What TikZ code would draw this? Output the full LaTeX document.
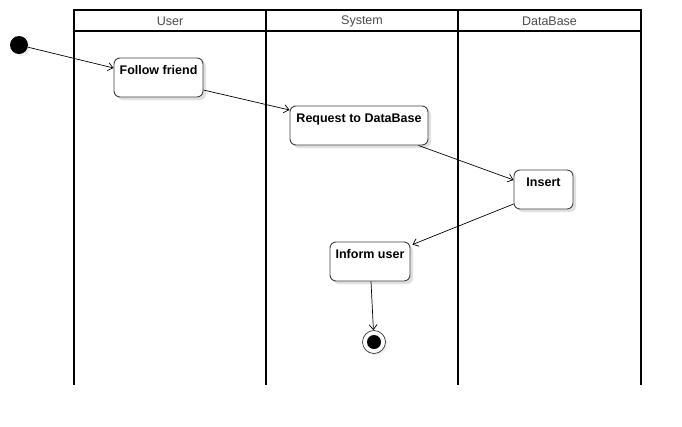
\documentclass[tikz,border=0pt]{standalone}
\usepackage{fontspec}
\setmainfont{Liberation Sans}
\usetikzlibrary{arrows.meta,calc,shadows}
\tikzset{
  lane/.style={line width=2pt, draw=black},
  lanetitle/.style={text=black!70, font=\fontsize{12.5}{14}\selectfont, inner sep=0pt},
  actbox/.style={draw=black!75, line width=0.9pt, rounded corners=6pt, fill=white,
    drop shadow={opacity=0.2, shadow xshift=3pt, shadow yshift=-3pt, fill=black!60}},
  acttext/.style={font=\bfseries\fontsize{12.5}{14}\selectfont, inner sep=0pt, anchor=north},
  flow/.style={draw=black, line width=0.7pt, -{Straight Barb[length=5pt,width=8pt]}},
  startdot/.style={circle, fill=black, minimum size=18pt, inner sep=0pt,
    drop shadow={opacity=0.12, shadow xshift=2pt, shadow yshift=-2pt}},
  endring/.style={circle, draw=black!80, line width=0.7pt, fill=white, minimum size=23pt, inner sep=0pt,
    drop shadow={opacity=0.12, shadow xshift=2pt, shadow yshift=-2pt}},
  enddot/.style={circle, fill=black, minimum size=14pt, inner sep=0pt}
}
\begin{document}
\begin{tikzpicture}[x=1pt,y=-1pt]
\useasboundingbox (0,0) rectangle (682,426);
% swimlanes
\draw[lane] (74,385) -- (74,10) -- (641,10) -- (641,385);
\draw[lane] (74,31) -- (641,31);
\draw[lane] (266,10) -- (266,385);
\draw[lane] (458,10) -- (458,385);
\node[lanetitle] (tuser) at (170,21.5) {User};
\node[lanetitle] (tsys) at (362,21.5) {System};
\node[lanetitle] (tdb) at (549.5,21.5) {DataBase};
% nodes
\node[startdot] (start) at (19,45) {};
\node[actbox, minimum width=89pt, minimum height=39pt] (ff) at (158.5,77.5) {};
\node[acttext] (ffl) at ($(ff.north)+(0,8)$) {Follow friend};
\node[actbox, minimum width=138pt, minimum height=39pt] (req) at (359,125.5) {};
\node[acttext] (reql) at ($(req.north)+(0,8)$) {Request to DataBase};
\node[actbox, minimum width=59pt, minimum height=39pt] (ins) at (543.5,189.5) {};
\node[acttext] (insl) at ($(ins.north)+(0,8)$) {Insert};
\node[actbox, minimum width=80pt, minimum height=39pt] (inf) at (370,261.5) {};
\node[acttext] (infl) at ($(inf.north)+(0,8)$) {Inform user};
\node[endring] (end) at (374,342) {};
\node[enddot] (endd) at (end) {};
% flows
\draw[flow] (start) -- ($(ff.west)+(0,-9.5)$);
\draw[flow] ($(ff.east)+(0,12.5)$) -- ($(req.west)+(0,-15.5)$);
\draw[flow] ($(req.south east)+(-10,0)$) -- ($(ins.west)+(0,-9.5)$);
\draw[flow] ($(ins.west)+(0,14.5)$) -- ($(inf.north east)+(2,3)$);
\draw[flow] ($(inf.south)+(1,0)$) -- (end);
\end{tikzpicture}
\end{document}
